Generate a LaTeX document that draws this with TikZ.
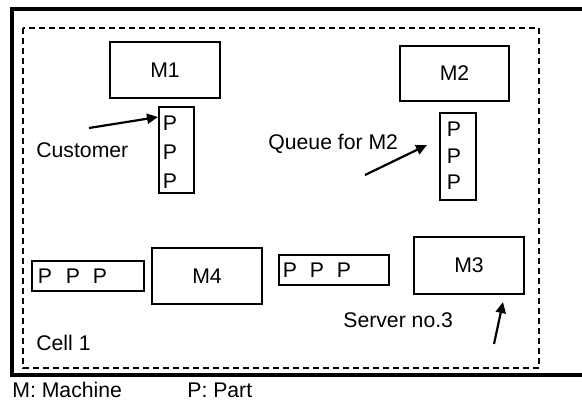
\documentclass[tikz,border=0pt]{standalone}
\usepackage{fontspec}
\setmainfont{Liberation Sans}
\usetikzlibrary{arrows.meta}
\begin{document}
\begin{tikzpicture}[x=0.5pt,y=-0.5pt,
  every node/.style={font=\fontsize{10.6}{12}\selectfont, inner sep=0pt},
  machine/.style={draw, line width=0.6pt, minimum width=55pt, minimum height=28pt},
  queuebox/.style={draw, line width=0.6pt},
  lbl/.style={anchor=west},
  pointer/.style={line width=1.1pt, -{Triangle[length=5.5pt,width=5pt]}}]
\useasboundingbox (0,0) rectangle (582,401);
% outer thick frame
\draw[line width=2pt] (582,9) -- (12,9) -- (12,375) -- (582,375);
% dashed cell
\draw[line width=0.6pt, dash pattern=on 3pt off 2pt] (23,28) rectangle (539,368);
% machines
\node[machine, minimum width=55pt, minimum height=28pt] (m1) at (165,70) {M1};
\node[machine, minimum width=54.5pt, minimum height=27.5pt] (m2) at (454.5,73.5) {M2};
\node[machine, minimum width=55pt, minimum height=28pt] (m4) at (207,276) {M4};
\node[machine, minimum width=55pt, minimum height=28.5pt] (m3) at (469,265.5) {M3};
% queue for M1
\node[queuebox, minimum width=17.5pt, minimum height=43pt] (q1) at (176.5,150) {};
\node (q1a) at (170,123) {P};
\node (q1b) at (170,152) {P};
\node (q1c) at (170,181) {P};
% queue for M2
\node[queuebox, minimum width=18pt, minimum height=43.5pt] (q2) at (458,156.5) {};
\node (q2a) at (454,129) {P};
\node (q2b) at (454,156) {P};
\node (q2c) at (454,182) {P};
% queue for M4
\node[queuebox, minimum width=56pt, minimum height=15pt] (q4) at (88,276) {};
\node (q4a) at (45,276) {P};
\node (q4b) at (73,276) {P};
\node (q4c) at (100,276) {P};
% queue for M3
\node[queuebox, minimum width=55pt, minimum height=15pt] (q3) at (334,270) {};
\node (q3a) at (290,270) {P};
\node (q3b) at (317,270) {P};
\node (q3c) at (344,270) {P};
% labels
\node[lbl] (cust) at (36,150) {Customer};
\node[lbl] (qlab) at (268,144) {Queue for M2};
\node[lbl] (serv) at (343,320) {Server no.3};
\node[lbl] (cell) at (36,343) {Cell 1};
\node[lbl] (legm) at (12,390) {M: Machine};
\node[lbl] (legp) at (187,390) {P: Part};
% pointers
\coordinate (c1) at (89,128);
\coordinate (t1) at (158,117);
\coordinate (c2) at (365,175);
\coordinate (t2) at (427,145);
\coordinate (c3) at (494,344);
\coordinate (t3) at (503,302);
\draw[pointer] (c1) -- (t1);
\draw[pointer] (c2) -- (t2);
\draw[pointer] (c3) -- (t3);
\end{tikzpicture}
\end{document}
